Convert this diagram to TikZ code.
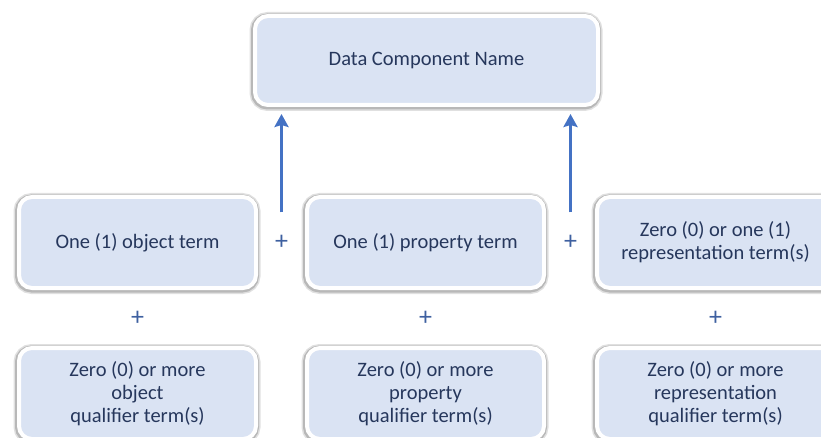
\documentclass[tikz,border=0pt]{standalone}
\usepackage{fontspec}
\setmainfont{Carlito}
\usepackage{xcolor}
\usepackage{tikz}
\usetikzlibrary{arrows.meta, positioning, calc}
\definecolor{boxfill}{RGB}{218, 227, 243}
\definecolor{textcolor}{RGB}{38, 55, 92}
\definecolor{arrowcolor}{RGB}{68, 114, 196}
\definecolor{pluscolor}{RGB}{62, 96, 160}

\begin{document}
\begin{tikzpicture}[
    x=1pt, y=-1pt,
    softshadow/.style={preaction={draw=black, draw opacity=0.12, line width=10pt, transform canvas={shift={(-0.5pt,-1pt)}}},
        preaction={draw=black, draw opacity=0.18, line width=7pt, transform canvas={shift={(-0.5pt,-1pt)}}}},
    term/.style={rectangle, draw=white, line width=4pt, fill=boxfill, rounded corners=13pt,
        minimum width=237pt, minimum height=91pt, align=center, text=textcolor,
        font=\fontsize{20.5}{23}\selectfont, softshadow},
    topterm/.style={term, minimum width=343pt, minimum height=89pt},
    plus/.style={text=pluscolor, font=\fontsize{26}{26}\selectfont},
    arrow/.style={-{Stealth[width=14pt, length=13pt, inset=2pt]}, line width=3pt, arrowcolor},
]
\useasboundingbox (0,0) rectangle (821,438);

% ============ TOP ============
\node[topterm] (dataname) at (426.5,60.5) {Data Component Name};

% ============ TERMS ============
\node[term] (objterm) at (137.5,242.5) {One (1) object term};
\node[term] (propterm) at (425.5,242.5) {One (1) property term};
\node[term] (repterm) at (715.5,242.5) {Zero (0) or one (1)\\representation term(s)};

% ============ QUALIFIERS ============
\node[term, below=56pt of objterm] (objqual) {Zero (0) or more\\object\\qualifier term(s)};
\node[term, below=56pt of propterm] (propqual) {Zero (0) or more\\property\\qualifier term(s)};
\node[term, below=56pt of repterm] (repqual) {Zero (0) or more\\representation\\qualifier term(s)};

% ============ PLUS SIGNS ============
\node[plus] (plusA) at ($(objterm.east)!0.5!(propterm.west)$) {+};
\node[plus] (plusB) at ($(propterm.east)!0.5!(repterm.west)$) {+};
\node[plus] (plusobj) at ($(objterm.south)!0.5!(objqual.north)$) {+};
\node[plus] (plusprop) at ($(propterm.south)!0.5!(propqual.north)$) {+};
\node[plus] (plusrep) at ($(repterm.south)!0.5!(repqual.north)$) {+};

% ============ ARROWS ============
\coordinate (arrowA) at ($(plusA)+(0,-30)$);
\coordinate (arrowB) at ($(plusB)+(0,-30)$);
\draw[arrow, shorten >=7pt] (arrowA) -- (arrowA |- dataname.south);
\draw[arrow, shorten >=7pt] (arrowB) -- (arrowB |- dataname.south);

\end{tikzpicture}
\end{document}
